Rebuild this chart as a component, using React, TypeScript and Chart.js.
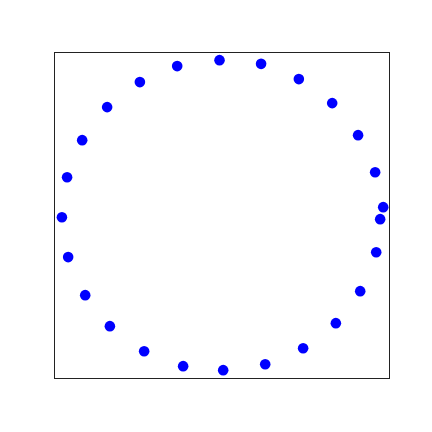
import React, { useEffect, useRef } from "react";
import { Chart, registerables } from "chart.js";

Chart.register(...registerables);

const xValues = [
  1.062, 1.009, 0.897, 0.727, 0.508, 0.26, -0.013, -0.291, -0.536, -0.751, -0.915, -1.014, -1.048,
  -1.007, -0.895, -0.733, -0.508, -0.252, 0.011, 0.287, 0.536, 0.751, 0.911, 1.016, 1.042,
];
const yValues = [
  0.053, 0.289, 0.539, 0.755, 0.917, 1.02, 1.045, 1.005, 0.897, 0.728, 0.505, 0.255, -0.015,
  -0.284, -0.541, -0.75, -0.919, -1.02, -1.047, -1.007, -0.899, -0.73, -0.514, -0.251, -0.028,
];
const axisMin = -1.1;
const axisMax = 1.1;

const framePlugin = {
  id: "frame",
  afterDraw(chart: any) {
    const { ctx, chartArea } = chart;
    ctx.save();
    ctx.strokeStyle = "#222";
    ctx.lineWidth = 1;
    ctx.strokeRect(
      chartArea.left + 0.5,
      chartArea.top + 0.5,
      chartArea.right - chartArea.left,
      chartArea.bottom - chartArea.top
    );
    ctx.restore();
  },
};

export default function App() {
  const ref = useRef<HTMLCanvasElement>(null);
  useEffect(() => {
    if (!ref.current) return;
    const chart = new Chart(ref.current, {
      type: "scatter",
      data: {
        datasets: [
          {
            data: xValues.map((x, i) => ({ x, y: yValues[i] })),
            backgroundColor: "#0000ff",
            borderWidth: 0,
            pointRadius: 5.3,
            pointHoverRadius: 5.3,
          },
        ],
      },
      options: {
        responsive: false,
        animation: false,
        events: [],
        layout: { padding: { left: 54, top: 52, right: 43, bottom: 54 } },
        plugins: { legend: { display: false }, tooltip: { enabled: false } },
        scales: {
          x: { type: "linear", display: false, min: axisMin, max: axisMax },
          y: { type: "linear", display: false, min: axisMin, max: axisMax },
        },
      },
      plugins: [framePlugin],
    });
    return () => chart.destroy();
  }, []);
  return (
    <div style={{ position: "fixed", left: 0, top: 0, width: 432, height: 432, background: "#fff" }}>
      <canvas ref={ref} width={432} height={432} style={{ width: 432, height: 432 }} />
    </div>
  );
}
